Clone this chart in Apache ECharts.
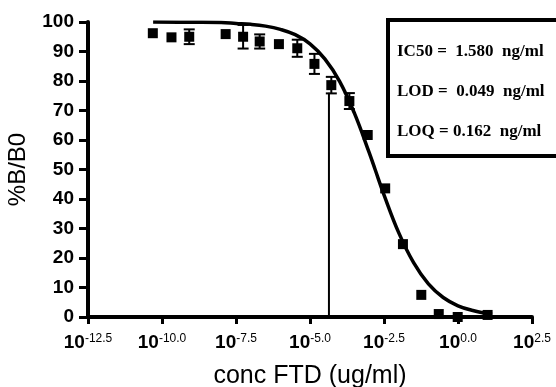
<!DOCTYPE html>
<html>
<head>
<meta charset="utf-8">
<script src="https://cdn.jsdelivr.net/npm/echarts@6/dist/echarts.min.js"></script>
<style>
  html, body { margin: 0; padding: 0; background: #fff; }
  #chart { width: 556px; height: 387px; }
</style>
</head>
<body>
<div id="chart"></div>
<script>
// Competitive ELISA standard curve: %B/B0 against log10 concentration of FTD (ug/ml)
const logConc = [-10.31, -9.68, -9.08, -7.85, -7.26, -6.70, -6.05, -5.43, -4.85, -4.28, -3.67, -3.05, -2.46, -1.86, -1.24, -0.65, -0.01, 1.0];
const pctB    = [96.2, 94.8, 95.0, 95.9, 95.0, 93.4, 92.5, 91.1, 85.8, 78.6, 73.2, 61.7, 43.6, 24.7, 7.5, 1.0, 0.0, 0.7];
const errSD   = [0, 0, 2.5, 0, 4.0, 2.4, 0, 2.9, 3.4, 2.8, 2.7, 0, 0, 0, 0, 0, 0, 0];

// Fitted sigmoid curve as traced
const fitLogConc = [-10.3, -9.0, -8.0, -7.5, -7.0, -6.5, -6.0, -5.5, -5.0, -4.5, -4.0, -3.5, -3.0, -2.8, -2.5, -2.0, -1.5, -1.0, -0.5, 0.0, 0.5, 1.15];
const fitPct     = [100, 99.9, 99.8, 99.5, 99.2, 98.6, 97.5, 95.7, 92.6, 87.5, 79.9, 69.1, 55.7, 50.0, 41.4, 28.5, 18.4, 11.2, 6.6, 3.8, 2.2, 0.9];

// Vertical marker line
const markerLogConc = [-4.36, -4.36];
const markerPct     = [0, 76];

// Axis ticks
const xTicks = { min: -12.5, max: 2.5, step: 2.5 };
const yTicks = { min: 0, max: 100, step: 10 };

// Summary box text
const statLines = ['IC50 =  1.580  ng/ml', 'LOD =  0.049  ng/ml', 'LOQ = 0.162  ng/ml'];

const points = logConc.map((x, i) => [x, pctB[i]]);
const errs = logConc.map((x, i) => [x, pctB[i], errSD[i]]);
const fit = fitLogConc.map((x, i) => [x, fitPct[i]]);
const marker = markerLogConc.map((x, i) => [x, markerPct[i]]);

const chart = echarts.init(document.getElementById('chart'), null, { renderer: 'canvas' });

const sansFont = '"Liberation Sans", Arial, sans-serif';
const serifFont = '"Liberation Serif", "Times New Roman", serif';

chart.setOption({
  animation: false,
  backgroundColor: '#fff',
  grid: { left: 88, right: 24, top: 22, bottom: 70, containLabel: false, outerBoundsMode: 'none' },
  xAxis: {
    type: 'value',
    min: xTicks.min, max: xTicks.max, interval: xTicks.step,
    name: 'conc FTD (ug/ml)',
    nameLocation: 'middle',
    nameGap: 47,
    nameTextStyle: { fontFamily: sansFont, fontSize: 25, color: '#000' },
    axisLine: { onZero: false, lineStyle: { color: '#000', width: 4 } },
    axisTick: { length: 7, lineStyle: { color: '#000', width: 3 } },
    splitLine: { show: false },
    axisLabel: {
      margin: 16,
      formatter: v => '{b|10}{s|' + v.toFixed(1) + '}',
      rich: {
        b: { fontFamily: sansFont, fontSize: 19, fontWeight: 'bold', color: '#000', lineHeight: 20 },
        s: { fontFamily: sansFont, fontSize: 12, color: '#000', verticalAlign: 'top', lineHeight: 12 }
      }
    }
  },
  yAxis: {
    type: 'value',
    min: yTicks.min, max: yTicks.max, interval: yTicks.step,
    name: '%B/B0',
    nameLocation: 'middle',
    nameRotate: 90,
    nameGap: 58,
    nameTextStyle: { fontFamily: sansFont, fontSize: 24, color: '#000' },
    axisLine: { onZero: false, lineStyle: { color: '#000', width: 4 } },
    axisTick: { length: 9, lineStyle: { color: '#000', width: 3 } },
    splitLine: { show: false },
    axisLabel: { margin: 14, fontFamily: sansFont, fontSize: 19, fontWeight: 'bold', color: '#000' }
  },
  series: [
    {
      type: 'line',
      data: marker,
      symbol: 'none',
      lineStyle: { color: '#000', width: 2 },
      silent: true,
      z: 2
    },
    {
      type: 'line',
      data: fit,
      smooth: 0.4,
      symbol: 'none',
      lineStyle: { color: '#000', width: 3.5 },
      silent: true,
      z: 3
    },
    {
      type: 'custom',
      data: errs,
      clip: false,
      z: 4,
      renderItem: (params, api) => {
        const x = api.value(0), y = api.value(1), e = api.value(2);
        if (!e) return null;
        const top = api.coord([x, y + e]);
        const bot = api.coord([x, y - e]);
        const hw = 5.5;
        const style = { stroke: '#000', lineWidth: 2 };
        return {
          type: 'group',
          children: [
            { type: 'line', shape: { x1: top[0], y1: top[1], x2: bot[0], y2: bot[1] }, style },
            { type: 'line', shape: { x1: top[0] - hw, y1: top[1], x2: top[0] + hw, y2: top[1] }, style },
            { type: 'line', shape: { x1: bot[0] - hw, y1: bot[1], x2: bot[0] + hw, y2: bot[1] }, style }
          ]
        };
      }
    },
    {
      type: 'scatter',
      data: points,
      symbol: 'rect',
      symbolSize: 10,
      clip: false,
      itemStyle: { color: '#000', opacity: 1 },
      z: 5
    }
  ],
  graphic: [
    {
      type: 'rect',
      shape: { x: 388, y: 20, width: 190, height: 136 },
      style: { fill: '#fff', stroke: '#000', lineWidth: 4 },
      z: 10
    },
    ...statLines.map((t, i) => ({
      type: 'text',
      x: 397,
      y: 52 + i * 40,
      style: {
        text: t,
        fontFamily: serifFont,
        fontSize: 17,
        fontWeight: 'bold',
        fill: '#000',
        verticalAlign: 'middle'
      },
      z: 11
    }))
  ]
});
</script>
</body>
</html>
